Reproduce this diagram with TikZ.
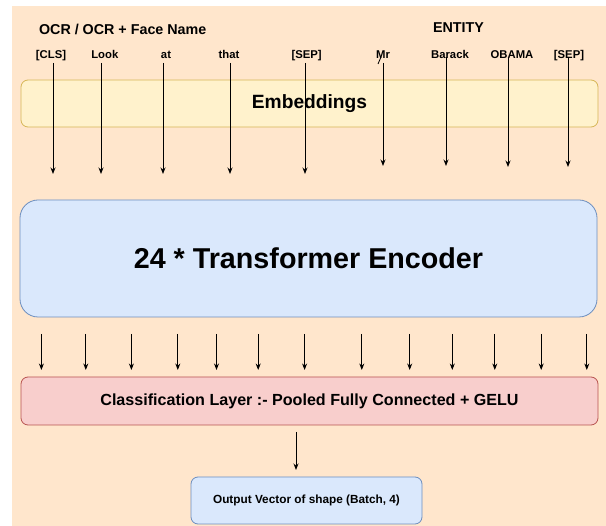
\documentclass[tikz,border=0pt]{standalone}
\usepackage{fontspec}
\setmainfont{Liberation Sans}
\usetikzlibrary{arrows.meta}
\definecolor{bgc}{HTML}{FFE6CC}
\definecolor{embf}{HTML}{FFF2CC}
\definecolor{embd}{HTML}{D6B656}
\definecolor{bluef}{HTML}{DAE8FC}
\definecolor{blued}{HTML}{6C8EBF}
\definecolor{redf}{HTML}{F8CECC}
\definecolor{redd}{HTML}{B85450}
\begin{document}
\begin{tikzpicture}[x=1pt,y=-1pt,
  box/.style={draw, rounded corners=7pt, line width=0.8pt, inner sep=0pt, font=\bfseries},
  head/.style={font=\bfseries\fontsize{14.3}{16}\selectfont, inner sep=0pt, anchor=base},
  tok/.style={font=\bfseries\fontsize{11.3}{13}\selectfont, inner sep=0pt, anchor=base},
  arr/.style={-{Stealth[length=6.5pt,width=5pt]}, line width=0.9pt}]
\useasboundingbox (0,0) rectangle (606,526);
\fill[bgc] (12,6) rectangle (606,526);

% headers
\node[head] (h1) at (122.7,34.5) {OCR / OCR + Face Name};
\node[head] (h2) at (458.5,32.8) {ENTITY};

% tokens
\node[tok] (t1) at (51,58.2) {[CLS]};
\node[tok] (t2) at (104.8,58.2) {Look};
\node[tok] (t3) at (166,58.2) {at};
\node[tok] (t4) at (229,58.2) {that};
\node[tok] (t5) at (306.6,58.2) {[SEP]};
\node[tok] (t6) at (383,58.2) {Mr};
\node[tok] (t7) at (450,58.2) {Barack};
\node[tok] (t8) at (512,58.2) {OBAMA};
\node[tok] (t9) at (569,58.2) {[SEP]};

% boxes
\node[box, fill=embf, draw=embd, minimum width=577pt, minimum height=47pt,
      font=\bfseries\fontsize{19.2}{21}\selectfont] (emb) at (309.5,103.5) {Embeddings};
\node[box, fill=bluef, draw=blued, rounded corners=18pt, minimum width=577pt, minimum height=117pt,
      font=\bfseries\fontsize{28.7}{31}\selectfont] (enc) at (308.5,258.5) {24 * Transformer Encoder};
\node[box, fill=redf, draw=redd, minimum width=577pt, minimum height=48pt,
      font=\bfseries\fontsize{16.1}{18}\selectfont] (cls) at (309.5,401) {Classification Layer :- Pooled Fully Connected + GELU};
\node[box, fill=bluef, draw=blued, minimum width=231pt, minimum height=47pt,
      font=\bfseries\fontsize{11.8}{13}\selectfont] (out) at (306.5,500.5) {Output Vector of shape (Batch, 4)};

% token arrows
\foreach \i/\x/\ya/\yb in {1/53/63/174, 2/101/63/174, 3/163/63/174, 4/230/63/174, 5/305/63/174,
                           6/383/63/166, 7/446/57/166, 8/508/58/167, 9/568/58/167}{
  \coordinate (s\i) at (\x,\ya);
  \coordinate (e\i) at (\x,\yb);
  \draw[arr] (s\i) -- (e\i);
}
\coordinate (m1) at (378,64);
\coordinate (m2) at (381,57);
\draw[line width=0.8pt] (m1) -- (m2);

% encoder output arrows
\foreach \j/\x in {1/41.4, 2/85.8, 3/131.4, 4/177.8, 5/216.5, 6/258.2, 7/304.6,
                   8/361.8, 9/409.7, 10/452.3, 11/494.8, 12/541.2, 13/586.8}{
  \coordinate (p\j) at (\x,334);
  \coordinate (q\j) at (\x,370);
  \draw[arr] (p\j) -- (q\j);
}

% classification to output
\coordinate (c1) at (296,432);
\coordinate (c2) at (296,470);
\draw[arr] (c1) -- (c2);
\end{tikzpicture}
\end{document}
